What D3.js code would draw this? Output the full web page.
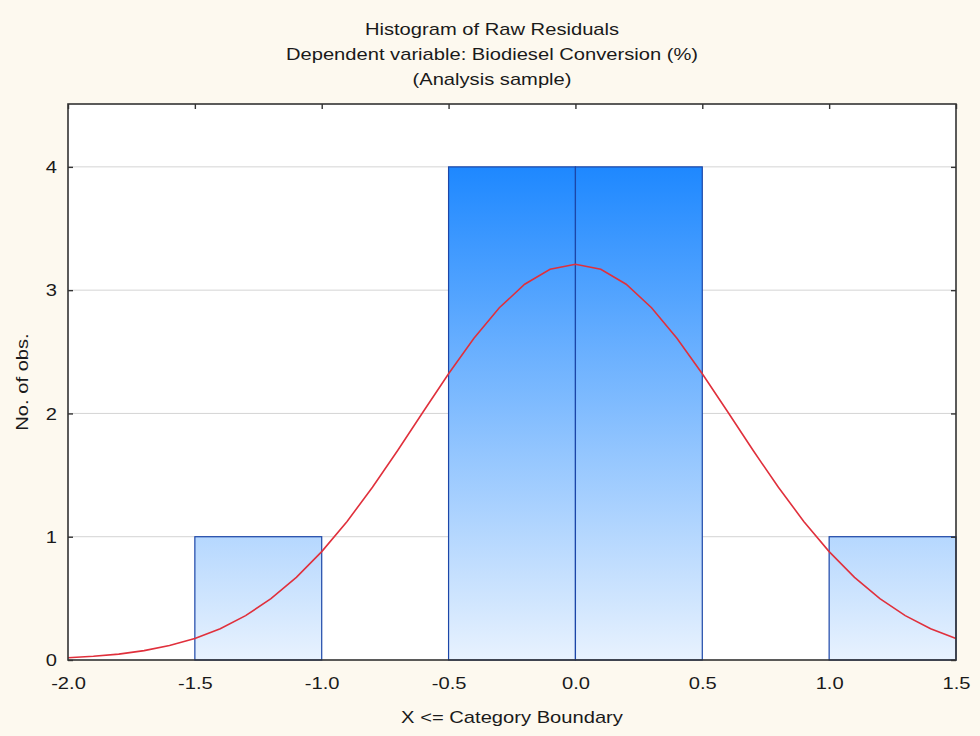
<!DOCTYPE html>
<html><head><meta charset="utf-8">
<script src="https://cdn.jsdelivr.net/npm/d3@7"></script>
<style>body{margin:0;background:#fdf9ef;} svg{display:block;font-family:"Liberation Sans",Arial,sans-serif;}</style>
</head><body>
<svg id="c" width="980" height="736"></svg>
<script>
const titleLines = ["Histogram of Raw Residuals", "Dependent variable: Biodiesel Conversion (%)", "(Analysis sample)"];
const binLower = [-2.0, -1.5, -1.0, -0.5, 0.0, 0.5, 1.0];
const binUpper = [-1.5, -1.0, -0.5, 0.0, 0.5, 1.0, 1.5];
const binCounts = [0, 1, 0, 4, 4, 0, 1];
const xTicks = [-2.0, -1.5, -1.0, -0.5, 0.0, 0.5, 1.0, 1.5];
const yTicks = [0, 1, 2, 3, 4];
const curveX = [-2.0,-1.9,-1.8,-1.7,-1.6,-1.5,-1.4,-1.3,-1.2,-1.1,-1.0,-0.9,-0.8,-0.7,-0.6,-0.5,-0.4,-0.3,-0.2,-0.1,0.0,0.1,0.2,0.3,0.4,0.5,0.6,0.7,0.8,0.9,1.0,1.1,1.2,1.3,1.4,1.5];
const curveY = [0.018,0.030,0.048,0.076,0.117,0.174,0.254,0.360,0.497,0.670,0.879,1.124,1.401,1.701,2.014,2.322,2.609,2.857,3.048,3.169,3.210,3.169,3.048,2.857,2.609,2.322,2.014,1.701,1.401,1.124,0.879,0.670,0.497,0.360,0.254,0.174];

const SX = 1.26;   // horizontal glyph stretch
const FS = 16;
const TXT = "#1a1a1a";

const svg = d3.select("#c");
const L = 68, R = 956, T = 104, B = 660;
const x = d3.scaleLinear().domain([-2, 1.5]).range([L, R]);
const y = d3.scaleLinear().domain([0, 4.51]).range([B, T]);

svg.append("rect").attr("x", L).attr("y", T).attr("width", R - L).attr("height", B - T).attr("fill", "#ffffff");

const defs = svg.append("defs");
const g = defs.append("linearGradient").attr("id", "bg").attr("gradientUnits", "userSpaceOnUse")
  .attr("x1", 0).attr("x2", 0).attr("y1", y(4)).attr("y2", B);
g.append("stop").attr("offset", "0%").attr("stop-color", "#1e88ff");
g.append("stop").attr("offset", "100%").attr("stop-color", "#e8f2fe");

svg.append("g").selectAll("line").data(yTicks.filter(d => d > 0)).join("line")
  .attr("x1", L).attr("x2", R).attr("y1", d => y(d)).attr("y2", d => y(d))
  .attr("stroke", "#d4d4d4").attr("stroke-width", 1);

const bins = binLower.map((lo, i) => ({lo, hi: binUpper[i], n: binCounts[i]})).filter(d => d.n > 0);
svg.append("g").selectAll("rect").data(bins).join("rect")
  .attr("x", d => x(d.lo)).attr("width", d => x(d.hi) - x(d.lo))
  .attr("y", d => y(d.n)).attr("height", d => B - y(d.n))
  .attr("fill", "url(#bg)").attr("stroke", "#1c46a8").attr("stroke-width", 1.2);

const line = d3.line().x((d, i) => x(curveX[i])).y(d => y(d)).curve(d3.curveLinear);
svg.append("path").datum(curveY).attr("d", line).attr("fill", "none")
  .attr("stroke", "#e0303c").attr("stroke-width", 1.6);

svg.append("rect").attr("x", L).attr("y", T).attr("width", R - L).attr("height", B - T)
  .attr("fill", "none").attr("stroke", "#333333").attr("stroke-width", 1.6);

const fmt = d => d3.format(".1f")(d).replace("\u2212", "-");
const xa = svg.append("g").attr("transform", `translate(0,${B})`)
  .call(d3.axisBottom(x).tickValues(xTicks).tickFormat(fmt).tickSize(0).tickPadding(0));
xa.select(".domain").remove();
xa.selectAll("text").attr("font-size", FS).attr("fill", TXT).attr("dy", null).attr("y", 29)
  .attr("transform", `scale(${SX},1)`).attr("font-family", "Liberation Sans, Arial, sans-serif");

const xt = svg.append("g").attr("transform", `translate(0,${T})`)
  .call(d3.axisTop(x).tickValues(xTicks).tickFormat("").tickSizeInner(-5).tickSizeOuter(0));
xt.select(".domain").remove();
xt.selectAll("line").attr("stroke", "#333").attr("stroke-width", 1.4);

const ya = svg.append("g").attr("transform", `translate(${L},0)`)
  .call(d3.axisLeft(y).tickValues(yTicks).tickFormat(d3.format("d")).tickSizeInner(-5).tickSizeOuter(0).tickPadding(0));
ya.select(".domain").remove();
ya.selectAll("line").attr("stroke", "#333").attr("stroke-width", 1.4);
ya.selectAll("text").attr("font-size", FS).attr("fill", TXT).attr("x", -11 / SX).attr("dy", "0.36em")
  .attr("transform", `scale(${SX},1)`).attr("font-family", "Liberation Sans, Arial, sans-serif");

const yr = svg.append("g").attr("transform", `translate(${R},0)`)
  .call(d3.axisRight(y).tickValues(yTicks).tickFormat("").tickSizeInner(-5).tickSizeOuter(0));
yr.select(".domain").remove();
yr.selectAll("line").attr("stroke", "#333").attr("stroke-width", 1.4);

svg.append("g").selectAll("text").data(titleLines).join("text")
  .attr("transform", (d, i) => `translate(492,${35 + i * 25}) scale(${SX},1)`).attr("text-anchor", "middle")
  .attr("font-size", FS).attr("fill", TXT).text(d => d);

svg.append("text").attr("transform", `translate(${(L + R) / 2},723) scale(${SX},1)`).attr("text-anchor", "middle")
  .attr("font-size", FS).attr("fill", TXT).text("X <= Category Boundary");

svg.append("text").attr("transform", `translate(28,${(T + B) / 2}) rotate(-90) scale(${SX},1)`).attr("text-anchor", "middle")
  .attr("font-size", FS).attr("fill", TXT).text("No. of obs.");
</script>
</body></html>
